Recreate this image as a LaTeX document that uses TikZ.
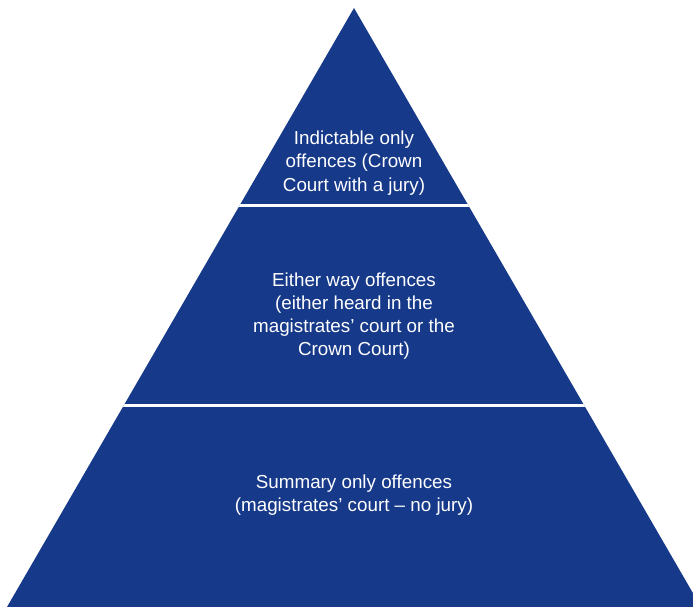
\documentclass[tikz,border=0pt]{standalone}
\usepackage{fontspec}
\setmainfont{Liberation Sans}
\usetikzlibrary{positioning}
\definecolor{pyramidblue}{RGB}{22,57,137}

\begin{document}
\begin{tikzpicture}[
    x=0.02cm, y=-0.02cm,
    tier/.style={fill=pyramidblue},
    separator/.style={draw=white, line width=1.7pt},
    tiertext/.style={text=white, align=center, inner sep=0pt, font=\fontsize{10.7}{13.2}\selectfont}
]
    \useasboundingbox (0,0) rectangle (693,607);
    \clip (0,0) rectangle (693,607);

    % Pyramid outline
    \coordinate (apex) at (354,8);
    \coordinate (baseL) at (7,607);
    \coordinate (baseR) at (701,607);
    \fill[tier] (apex) -- (baseL) -- (baseR) -- cycle;

    % Separators between the tiers
    \begin{scope}
        \clip (apex) -- (baseL) -- (baseR) -- cycle;
        \coordinate (sepAL) at (0,205.5);
        \coordinate (sepAR) at (693,205.5);
        \coordinate (sepBL) at (0,405.5);
        \coordinate (sepBR) at (693,405.5);
        \draw[separator] (sepAL) -- (sepAR);
        \draw[separator] (sepBL) -- (sepBR);
    \end{scope}

    % Tier labels
    \node[tiertext] (indictable) at (354,163) {Indictable only\\offences (Crown\\Court with a jury)};
    \node[tiertext] (eitherway) at (354,316) {Either way offences\\(either heard in the\\magistrates’ court or the\\Crown Court)};
    \node[tiertext] (summary) at (354,495) {Summary only offences\\(magistrates’ court – no jury)};
\end{tikzpicture}
\end{document}
